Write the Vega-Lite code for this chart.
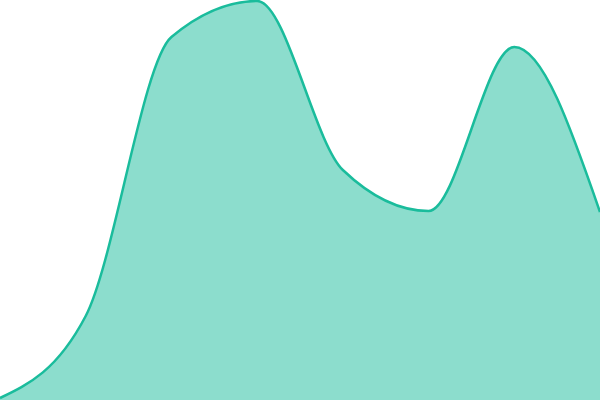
{
  "$schema": "https://vega.github.io/schema/vega-lite/v6.json",
  "width": 600,
  "height": 400,
  "padding": 0,
  "autosize": {"type": "none"},
  "background": "white",
  "config": {"view": {"stroke": null}},
  "data": {"values": [
    {"i": 0, "v": 2},
    {"i": 1, "v": 84},
    {"i": 2, "v": 363},
    {"i": 3, "v": 399},
    {"i": 4, "v": 230},
    {"i": 5, "v": 189},
    {"i": 6, "v": 353},
    {"i": 7, "v": 188}
  ]},
  "encoding": {
    "x": {"field": "i", "type": "quantitative", "axis": null, "scale": {"domain": [0, 7], "nice": false, "zero": false}},
    "y": {"field": "v", "type": "quantitative", "axis": null, "scale": {"domain": [0, 400], "nice": false}}
  },
  "layer": [
    {"mark": {"type": "area", "interpolate": "monotone", "fill": "#8cddcd", "opacity": 1, "clip": true}},
    {"mark": {"type": "line", "interpolate": "monotone", "color": "#1abc9c", "strokeWidth": 2.5, "clip": true}}
  ]
}
